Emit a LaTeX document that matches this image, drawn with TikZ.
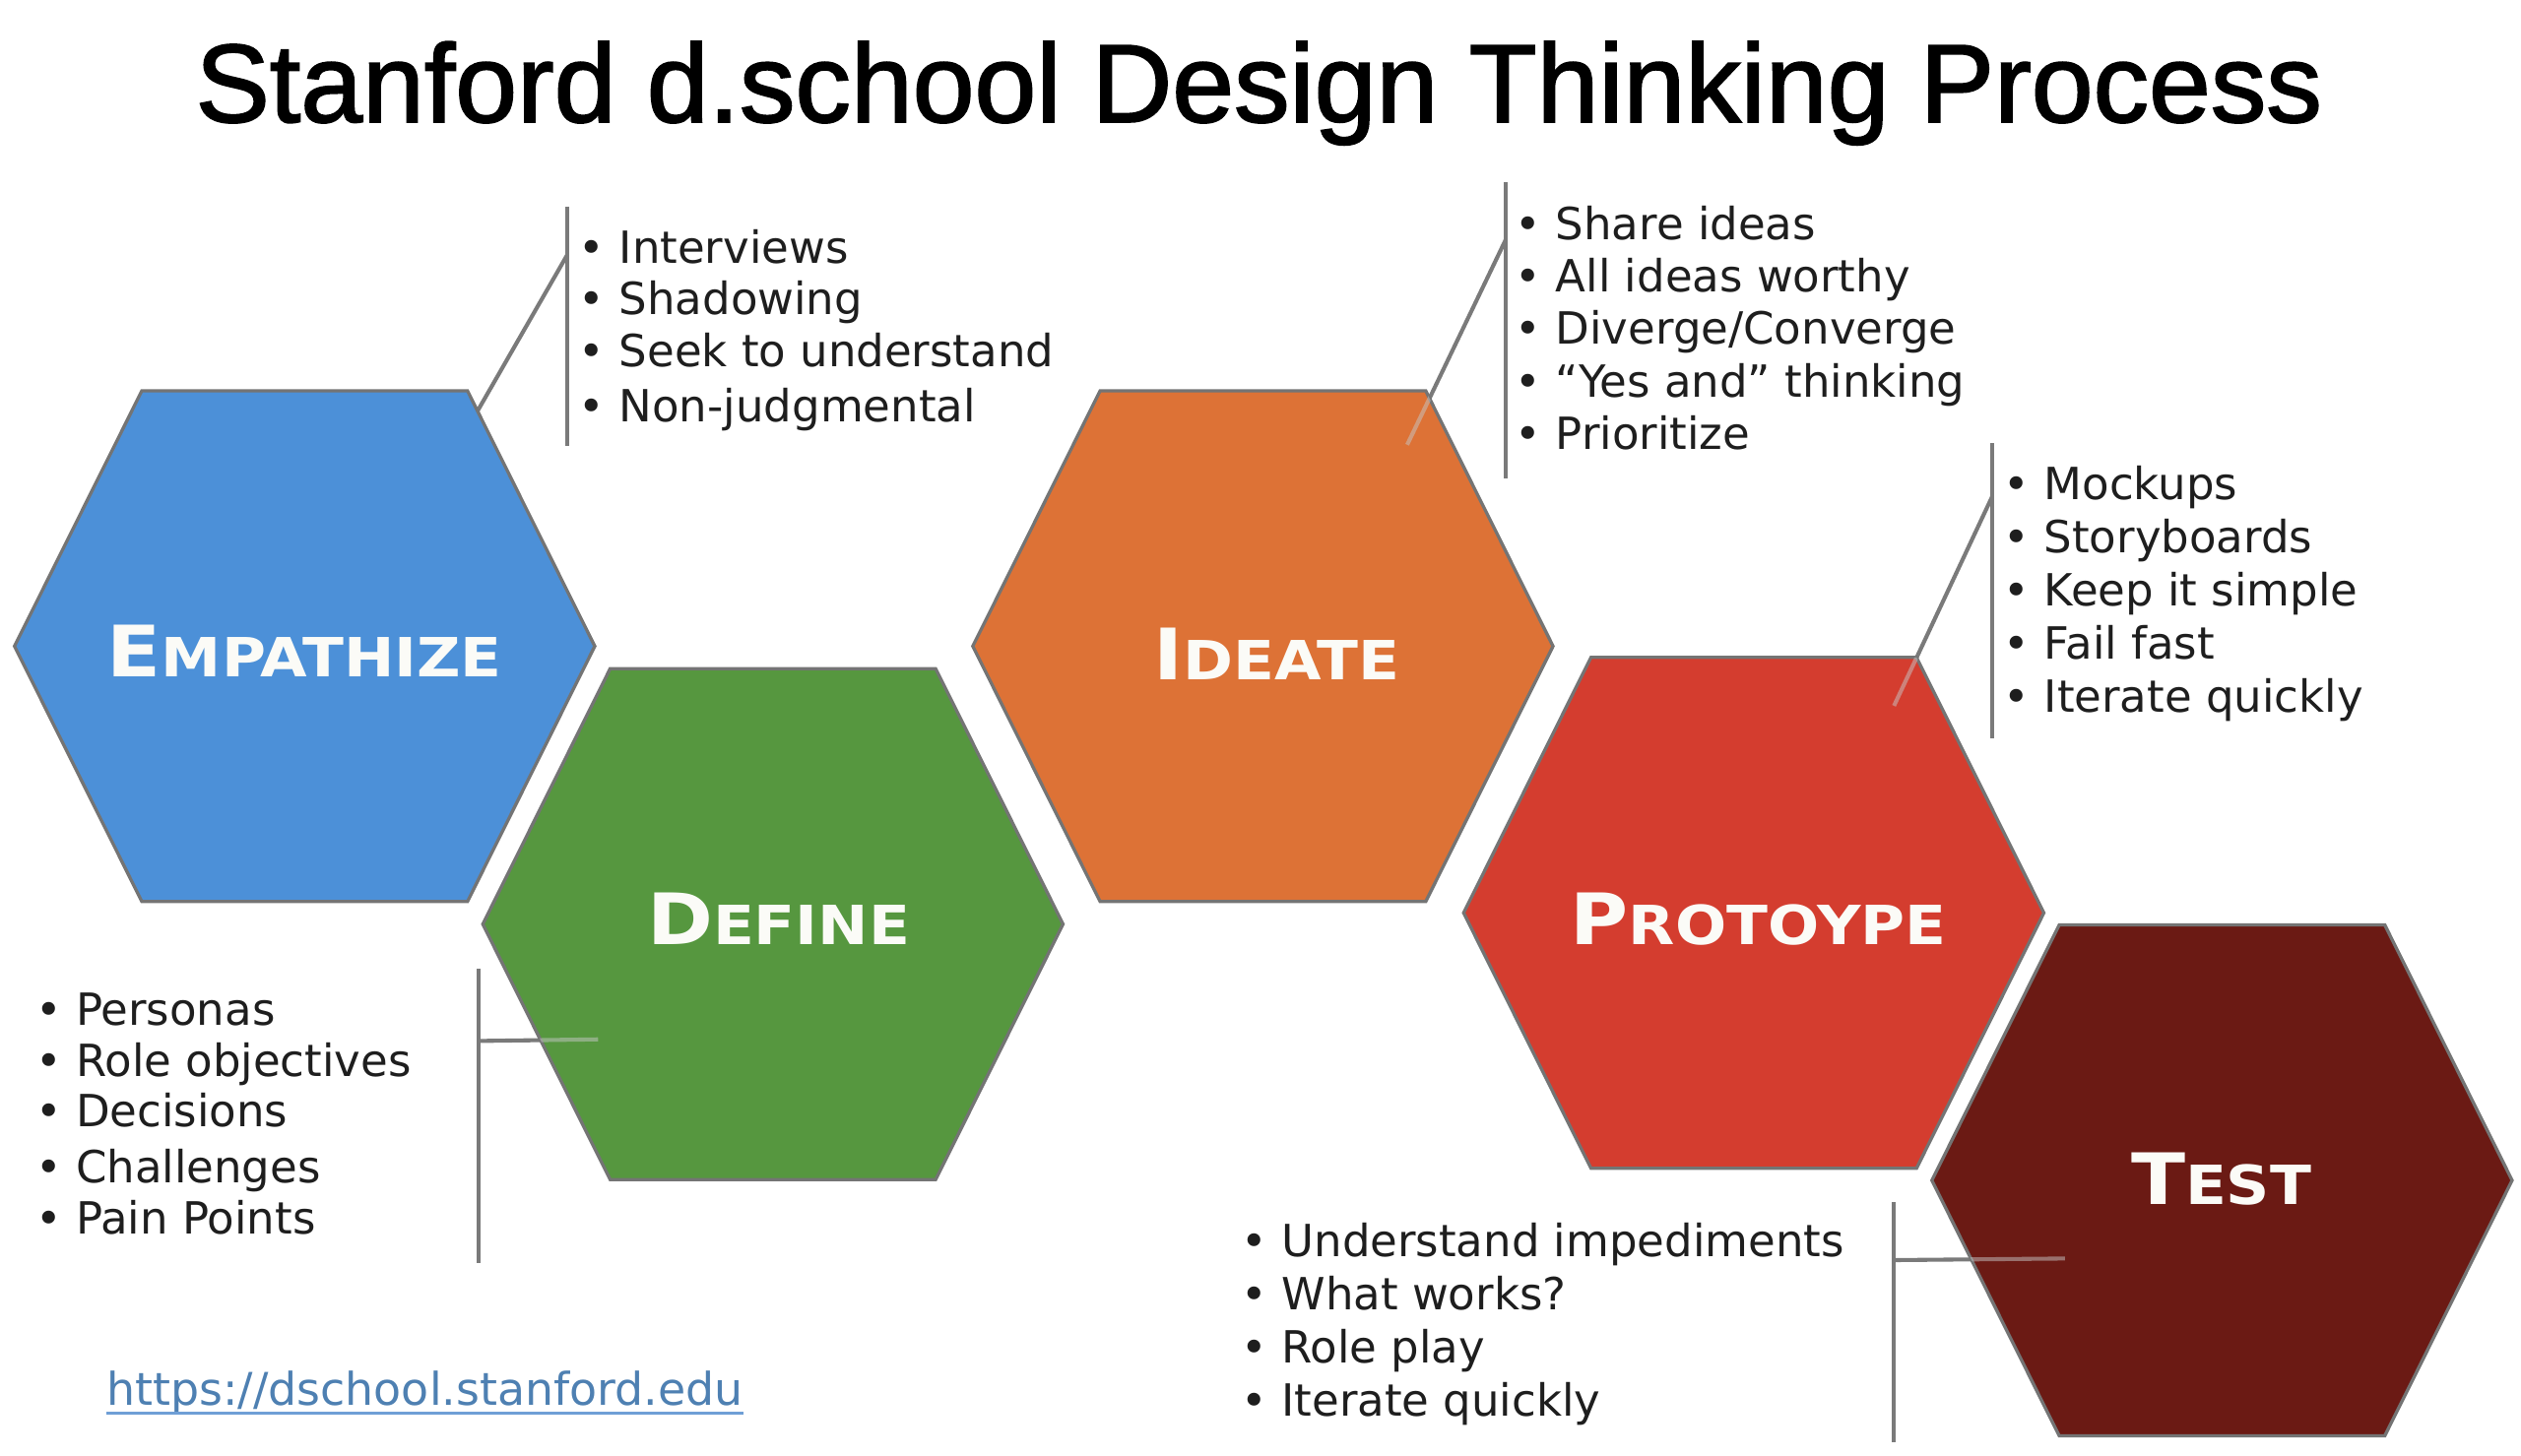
\documentclass[tikz,border=0pt]{standalone}
\usepackage{fontspec}
\setmainfont{DejaVu Sans}
\newfontfamily\titlefont{Liberation Sans}[FakeBold=1.6]
\newfontfamily\labfont{DejaVu Sans}[FakeStretch=1.12]
\definecolor{cE}{HTML}{4C90D8}
\definecolor{cD}{HTML}{56973F}
\definecolor{cI}{HTML}{DD7236}
\definecolor{cP}{HTML}{D43D2F}
\definecolor{cT}{HTML}{6B1A14}
\definecolor{edgec}{HTML}{747474}
\definecolor{connc}{HTML}{7A7A7A}
\definecolor{txtc}{HTML}{1E1E1E}
\definecolor{linkc}{HTML}{4E80B2}
\definecolor{linku}{HTML}{6F9FD6}
\definecolor{labc}{HTML}{FBFBF7}
\newcommand\hexlab[2]{{\fontsize{44}{44}\selectfont #1}{\fontsize{33.5}{33.5}\selectfont #2}}
\newcommand\bul[4]{\node[bullet] (#1) at (#2,#3) {• #4};}
\tikzset{
  hexp/.style={insert path={(-180,0) -- (-101,-158.5) -- (101,-158.5) -- (180,0) -- (101,158.5) -- (-101,158.5) -- cycle}},
  hexa/.style={draw=edgec, line width=2pt, line join=miter},
  conn/.style={draw=connc, line width=2.5pt},
  connin/.style={draw=black!22, line width=2.5pt, opacity=0.5},
  lab/.style={font=\labfont\bfseries, text=labc, anchor=base, inner sep=0pt},
  bullet/.style={font=\fontsize{27.5}{27.5}\selectfont, text=txtc, anchor=base west, inner sep=0pt},
}
\begin{document}
\begin{tikzpicture}[x=1pt,y=-1pt]
\path[fill=white] (0,0) rectangle (1564,903);
\useasboundingbox (0,0) rectangle (1564,903);

% title
\node[anchor=base, inner sep=0pt, text=black, font=\titlefont\fontsize{69}{69}\selectfont] (title) at (781,75.7) {Stanford d.school Design Thinking Process};

% hexagon centres
\coordinate (hE) at (189,401);
\coordinate (hD) at (479.5,573.5);
\coordinate (hI) at (783.5,401);
\coordinate (hP) at (1088,566.5);
\coordinate (hT) at (1378.5,732.5);

% connector points
\coordinate (eTop) at (352,128);  \coordinate (eBot) at (352,277);
\coordinate (eJ) at (352,158);    \coordinate (eH) at (294,259);
\coordinate (iTop) at (934,113);  \coordinate (iBot) at (934,297);
\coordinate (iJ) at (934,149);    \coordinate (iH) at (873,276);
\coordinate (pTop) at (1236,275); \coordinate (pBot) at (1236,458);
\coordinate (pJ) at (1236,308);   \coordinate (pH) at (1175,438);
\coordinate (dTop) at (297,601);  \coordinate (dBot) at (297,784);
\coordinate (dJ) at (297,646);    \coordinate (dH) at (371,645);
\coordinate (tTop) at (1175,746); \coordinate (tBot) at (1175,895);
\coordinate (tJ) at (1175,782);   \coordinate (tH) at (1281,781);

% connectors (under hexagons)
\draw[conn] (eTop) -- (eBot);
\draw[conn] (eJ) -- (eH);
\draw[conn] (iTop) -- (iBot);
\draw[conn] (iJ) -- (iH);
\draw[conn] (pTop) -- (pBot);
\draw[conn] (pJ) -- (pH);
\draw[conn] (dTop) -- (dBot);
\draw[conn] (dJ) -- (dH);
\draw[conn] (tTop) -- (tBot);
\draw[conn] (tJ) -- (tH);

% hexagons
\path[hexa, fill=cE, shift={(hE)}, hexp];
\path[hexa, fill=cD, shift={(hD)}, hexp];
\path[hexa, fill=cI, shift={(hI)}, hexp];
\path[hexa, fill=cP, shift={(hP)}, hexp];
\path[hexa, fill=cT, shift={(hT)}, hexp];

% inner parts of connectors, seen through
\begin{scope}\clip[shift={(hI)}, hexp]; \draw[connin] (iJ) -- (iH); \end{scope}
\begin{scope}\clip[shift={(hP)}, hexp]; \draw[connin] (pJ) -- (pH); \end{scope}
\begin{scope}\clip[shift={(hD)}, hexp]; \draw[connin] (dJ) -- (dH); \end{scope}
\begin{scope}\clip[shift={(hT)}, hexp]; \draw[connin] (tJ) -- (tH); \end{scope}

% labels
\node[lab] (empathize) at (189,420) {\hexlab{E}{MPATHIZE}};
\node[lab] (define) at (483,586) {\hexlab{D}{EFINE}};
\node[lab] (ideate) at (792,422) {\hexlab{I}{DEATE}};
\node[lab] (protoype) at (1091,586) {\hexlab{P}{ROTOYPE}};
\node[lab] (test) at (1378,747.5) {\hexlab{T}{EST}};

% bullet lists
\bul{e1}{359}{163.3}{Interviews}
\bul{e2}{359}{195}{Shadowing}
\bul{e3}{359}{227.5}{Seek to understand}
\bul{e4}{359}{261.6}{Non-judgmental}

\bul{i1}{940}{149}{Share ideas}
\bul{i2}{940}{181}{All ideas worthy}
\bul{i3}{940}{213.7}{Diverge/Converge}
\bul{i4}{940}{246.7}{“Yes and” thinking}
\bul{i5}{940}{279}{Prioritize}

\bul{p1}{1243}{310}{Mockups}
\bul{p2}{1243}{343}{Storyboards}
\bul{p3}{1243}{376}{Keep it simple}
\bul{p4}{1243}{409}{Fail fast}
\bul{p5}{1243}{442}{Iterate quickly}

\bul{d1}{22}{636.5}{Personas}
\bul{d2}{22}{668}{Role objectives}
\bul{d3}{22}{699.5}{Decisions}
\bul{d4}{22}{734}{Challenges}
\bul{d5}{22}{766}{Pain Points}

\bul{t1}{770}{780}{Understand impediments}
\bul{t2}{770}{813}{What works?}
\bul{t3}{770}{846}{Role play}
\bul{t4}{770}{879}{Iterate quickly}

% link
\node[anchor=base west, inner sep=0pt, text=linkc, font=\fontsize{28}{28}\selectfont] (link) at (66,872) {https://dschool.stanford.edu};
\draw[linku, line width=2pt] ([yshift=-5pt]link.base west) -- ([yshift=-5pt]link.base east);
\end{tikzpicture}
\end{document}
